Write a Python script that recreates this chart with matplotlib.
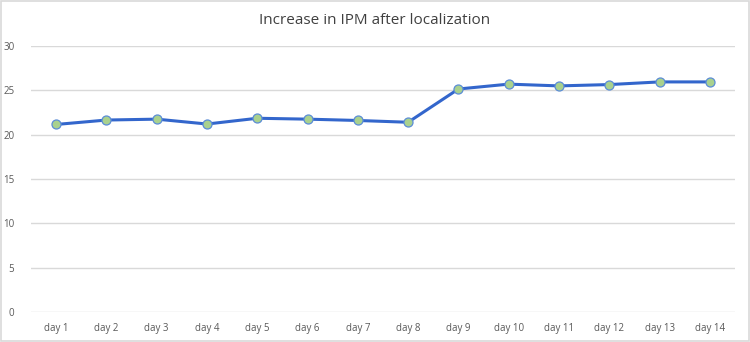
import matplotlib
matplotlib.use("Agg")
import matplotlib.pyplot as plt
from matplotlib.patches import Rectangle

days = ["day 1", "day 2", "day 3", "day 4", "day 5", "day 6", "day 7",
        "day 8", "day 9", "day 10", "day 11", "day 12", "day 13", "day 14"]
ipm = [21.15, 21.65, 21.75, 21.2, 21.85, 21.75, 21.6,
       21.4, 25.15, 25.7, 25.5, 25.65, 25.95, 25.95]
yticks = [0, 5, 10, 15, 20, 25, 30]

plt.rcParams['font.family'] = ['Open Sans', 'DejaVu Sans']

fig = plt.figure(figsize=(7.5, 3.42), dpi=100)
ax = fig.add_axes([31 / 750, 1 - 312 / 342, (735 - 31) / 750, (312 - 46) / 342])

x = list(range(len(days)))
ax.plot(x, ipm, color="#3366CC", linewidth=2.2, marker="o", markersize=6.5,
        markerfacecolor="#A9D18E", markeredgecolor="#5B8DD6", markeredgewidth=0.9,
        zorder=3)

ax.set_xlim(-0.5, len(days) - 0.5)
ax.set_ylim(0, 30)
ax.set_yticks(yticks)
ax.set_xticks(x)
ax.set_xticklabels(days)
ax.grid(axis="y", color="#D9D9D9", linewidth=1)
ax.set_axisbelow(True)
for s in ax.spines.values():
    s.set_visible(False)
ax.tick_params(length=0, labelsize=7, labelcolor="#595959")
ax.tick_params(axis="y", pad=12)
ax.tick_params(axis="x", pad=8)

fig.text(0.5, 1 - 21 / 342, "Increase in IPM after localization", ha="center", va="center",
         fontsize=11, color="#404040")

fig.patches.append(Rectangle((0.001, 0.002), 0.997, 0.995, transform=fig.transFigure,
                             fill=False, edgecolor="#D9D9D9", linewidth=1.2))

fig.savefig("out.png", dpi=100)
